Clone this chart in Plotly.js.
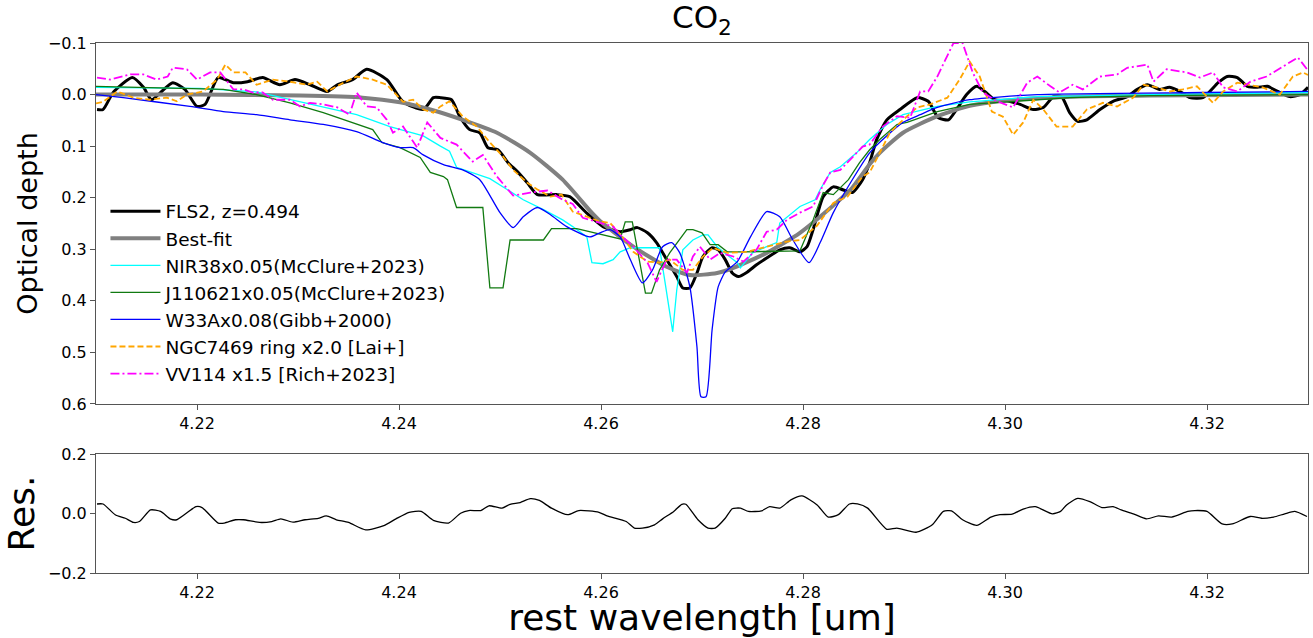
<!DOCTYPE html>
<html>
<head>
<meta charset="utf-8">
<script src="https://cdn.plot.ly/plotly-3.0.1.min.js"></script>
<style>html,body{margin:0;padding:0;background:#fff;}#chart{width:1313px;height:638px;}</style>
</head>
<body>
<div id="chart"></div>
<script>
// ---- data ----
const xTicks = [4.22, 4.24, 4.26, 4.28, 4.30, 4.32];

const fls2Wave = [4.2101,4.2107,4.2117,4.2136,4.2147,4.2155,4.2165,4.2176,4.2188,4.2200,
4.2208,4.2221,4.2236,4.2250,4.2265,4.2282,4.2297,4.2312,4.2329,4.2339,
4.2354,4.2368,4.2388,4.2404,4.2424,4.2434,4.2441,4.2452,4.2460,4.2470,
4.2480,4.2488,4.2498,4.2508,4.2517,4.2527,4.2537,4.2556,4.2569,4.2586,
4.2602,4.2619,4.2629,4.2636,4.2646,4.2655,4.2665,4.2675,4.2681,4.2688,
4.2695,4.2701,4.2710,4.2716,4.2723,4.2730,4.2736,4.2745,4.2754,4.2764,
4.2777,4.2787,4.2797,4.2804,4.2810,4.2820,4.2830,4.2840,4.2849,4.2859,
4.2866,4.2873,4.2883,4.2896,4.2913,4.2924,4.2934,4.2944,4.2952,4.2962,
4.2972,4.2980,4.2990,4.3002,4.3015,4.3028,4.3038,4.3048,4.3056,4.3064,
4.3072,4.3081,4.3094,4.3107,4.3121,4.3131,4.3141,4.3153,4.3163,4.3175,
4.3183,4.3196,4.3211,4.3220,4.3230,4.3240,4.3250,4.3260,4.3270,4.3282,
4.3292,4.3300];
const fls2Tau = [0.029,0.029,-0.004,-0.033,-0.014,0.010,-0.006,-0.023,-0.010,0.023,
0.019,-0.033,-0.023,-0.025,-0.033,-0.019,-0.029,-0.019,-0.006,-0.019,
-0.029,-0.049,-0.029,0.014,0.029,0.006,0.006,0.010,0.042,0.068,
0.074,0.103,0.107,0.132,0.149,0.171,0.194,0.194,0.198,0.230,
0.256,0.266,0.262,0.258,0.268,0.287,0.320,0.353,0.375,0.375,
0.346,0.314,0.297,0.301,0.320,0.346,0.353,0.344,0.330,0.317,
0.301,0.297,0.305,0.295,0.262,0.198,0.179,0.185,0.190,0.165,
0.132,0.087,0.049,0.029,0.006,0.013,0.045,0.049,0.029,0.000,
-0.016,-0.006,0.010,0.012,0.019,0.029,0.025,0.004,0.004,0.035,
0.052,0.049,0.029,0.013,0.004,-0.010,-0.019,-0.010,-0.014,-0.004,
0.006,0.006,-0.023,-0.035,-0.033,-0.016,-0.014,-0.016,-0.006,0.004,
0.000,-0.014];

const fitWave = [4.2100,4.2203,4.2302,4.2364,4.2401,4.2431,4.2463,4.2497,4.2530,4.2562,
4.2589,4.2599,4.2632,4.2665,4.2688,4.2715,4.2731,4.2764,4.2797,4.2830,
4.2847,4.2866,4.2876,4.2899,4.2933,4.2965,4.2998,4.3064,4.3144,4.3300];
const fitTau = [0.000,0.000,0.002,0.006,0.015,0.029,0.049,0.074,0.113,0.165,
0.225,0.245,0.295,0.334,0.350,0.346,0.336,0.307,0.268,0.215,
0.185,0.135,0.113,0.074,0.042,0.022,0.012,0.004,0.002,0.000];

const nir38Wave = [4.2100,4.2203,4.2259,4.2292,4.2358,4.2391,4.2424,4.2441,4.2450,4.2457,
4.2473,4.2490,4.2507,4.2523,4.2543,4.2562,4.2572,4.2586,4.2591,4.2602,
4.2612,4.2619,4.2629,4.2658,4.2663,4.2671,4.2675,4.2681,4.2691,4.2701,
4.2706,4.2715,4.2725,4.2735,4.2738,4.2750,4.2764,4.2774,4.2777,4.2797,
4.2812,4.2817,4.2827,4.2837,4.2853,4.2866,4.2883,4.2899,4.2933,4.2965,
4.3032,4.3144,4.3300];
const nir38Tau = [-0.014,-0.012,-0.005,0.010,0.039,0.062,0.080,0.100,0.110,0.141,
0.151,0.163,0.184,0.204,0.223,0.243,0.256,0.276,0.326,0.328,
0.320,0.305,0.297,0.297,0.359,0.460,0.379,0.301,0.282,0.272,
0.272,0.295,0.311,0.326,0.336,0.307,0.295,0.287,0.249,0.217,
0.204,0.184,0.151,0.140,0.113,0.087,0.058,0.039,0.023,0.014,
0.004,0.000,-0.004];

const j110621Wave = [4.2100,4.2226,4.2259,4.2292,4.2325,4.2358,4.2374,4.2383,4.2401,4.2421,
4.2431,4.2444,4.2448,4.2457,4.2483,4.2490,4.2503,4.2510,4.2543,4.2551,
4.2576,4.2619,4.2624,4.2631,4.2644,4.2650,4.2658,4.2668,4.2685,4.2691,
4.2700,4.2708,4.2716,4.2725,4.2741,4.2797,4.2810,4.2820,4.2830,4.2845,
4.2856,4.2866,4.2876,4.2893,4.2903,4.2933,4.2965,4.3064,4.3144,4.3300];
const j110621Tau = [-0.016,-0.010,0.000,0.016,0.035,0.058,0.068,0.093,0.103,0.122,
0.151,0.159,0.165,0.219,0.219,0.375,0.375,0.282,0.282,0.260,
0.260,0.280,0.247,0.247,0.385,0.385,0.340,0.307,0.262,0.262,
0.268,0.291,0.291,0.305,0.305,0.303,0.243,0.190,0.194,0.165,
0.132,0.107,0.087,0.058,0.054,0.033,0.019,0.006,0.002,0.000];

const w33aWave = [4.2100,4.2127,4.2193,4.2226,4.2259,4.2292,4.2325,4.2358,4.2384,4.2401,
4.2414,4.2424,4.2444,4.2463,4.2480,4.2500,4.2513,4.2523,4.2537,4.2550,
4.2566,4.2589,4.2599,4.2609,4.2619,4.2629,4.2641,4.2651,4.2661,4.2670,
4.2678,4.2688,4.2695,4.2699,4.2704,4.2710,4.2716,4.2723,4.2735,4.2748,
4.2764,4.2777,4.2790,4.2806,4.2817,4.2830,4.2847,4.2866,4.2883,4.2899,
4.2916,4.2933,4.2965,4.3032,4.3196,4.3300];
const w33aTau = [0.000,0.006,0.023,0.033,0.039,0.049,0.058,0.072,0.093,0.103,
0.103,0.117,0.136,0.146,0.165,0.229,0.258,0.237,0.219,0.233,
0.256,0.276,0.268,0.262,0.276,0.320,0.365,0.340,0.295,0.287,
0.307,0.373,0.489,0.586,0.586,0.456,0.373,0.344,0.324,0.276,
0.227,0.237,0.282,0.326,0.287,0.229,0.171,0.113,0.080,0.054,
0.039,0.025,0.010,0.000,-0.004,-0.006];

const ngc7469Wave = [4.2100,4.2107,4.2121,4.2137,4.2153,4.2170,4.2180,4.2190,4.2206,4.2220,
4.2228,4.2236,4.2248,4.2259,4.2275,4.2292,4.2309,4.2319,4.2329,4.2345,
4.2358,4.2374,4.2388,4.2404,4.2414,4.2424,4.2434,4.2441,4.2450,4.2463,
4.2477,4.2490,4.2503,4.2513,4.2527,4.2537,4.2550,4.2561,4.2572,4.2586,
4.2599,4.2609,4.2622,4.2632,4.2646,4.2658,4.2668,4.2681,4.2691,4.2701,
4.2711,4.2725,4.2745,4.2764,4.2784,4.2797,4.2814,4.2830,4.2844,4.2859,
4.2866,4.2876,4.2886,4.2899,4.2913,4.2926,4.2943,4.2955,4.2965,4.2975,
4.2987,4.2998,4.3008,4.3018,4.3028,4.3038,4.3051,4.3067,4.3081,4.3097,
4.3111,4.3127,4.3137,4.3150,4.3163,4.3176,4.3190,4.3206,4.3216,4.3230,
4.3243,4.3255,4.3272,4.3285,4.3295,4.3300];
const ngc7469Tau = [0.017,0.014,-0.006,0.006,0.010,0.006,0.013,0.000,-0.006,-0.029,
-0.058,-0.043,-0.043,-0.019,-0.029,-0.025,-0.019,-0.025,-0.006,-0.023,
-0.035,-0.029,-0.019,0.014,0.010,0.029,0.035,0.023,0.013,0.042,
0.062,0.093,0.120,0.146,0.171,0.184,0.198,0.194,0.227,0.237,
0.246,0.249,0.278,0.305,0.324,0.326,0.320,0.340,0.340,0.314,
0.297,0.307,0.305,0.295,0.285,0.282,0.254,0.210,0.198,0.159,
0.151,0.113,0.074,0.049,0.025,0.019,0.006,-0.029,-0.064,-0.035,
0.033,0.043,0.078,0.054,0.010,0.029,0.062,0.062,0.029,0.016,
0.023,0.006,-0.019,-0.014,-0.006,-0.010,-0.016,0.016,-0.006,-0.023,
-0.019,-0.014,0.000,-0.035,-0.043,-0.038];

const vv114Wave = [4.2101,4.2114,4.2134,4.2147,4.2160,4.2171,4.2176,4.2190,4.2200,4.2213,
4.2223,4.2236,4.2246,4.2255,4.2265,4.2275,4.2292,4.2302,4.2312,4.2325,
4.2339,4.2351,4.2358,4.2368,4.2378,4.2388,4.2394,4.2404,4.2418,4.2428,
4.2441,4.2457,4.2473,4.2483,4.2497,4.2513,4.2530,4.2547,4.2562,4.2572,
4.2582,4.2599,4.2612,4.2619,4.2632,4.2646,4.2655,4.2665,4.2675,4.2685,
4.2691,4.2698,4.2708,4.2718,4.2731,4.2741,4.2754,4.2764,4.2774,4.2784,
4.2797,4.2810,4.2820,4.2827,4.2837,4.2859,4.2866,4.2879,4.2893,4.2906,
4.2916,4.2924,4.2933,4.2949,4.2958,4.2968,4.2978,4.2992,4.3008,4.3022,
4.3032,4.3045,4.3054,4.3067,4.3077,4.3094,4.3111,4.3121,4.3141,4.3147,
4.3160,4.3180,4.3193,4.3206,4.3216,4.3230,4.3243,4.3259,4.3275,4.3290,
4.3299];
const vv114Tau = [-0.033,-0.029,-0.039,-0.039,-0.029,-0.035,-0.052,-0.049,-0.029,-0.043,
-0.043,-0.010,-0.010,-0.004,-0.004,0.010,0.010,0.023,0.016,0.019,
0.025,0.039,-0.004,0.023,0.025,0.049,0.074,0.062,0.103,0.054,
0.084,0.097,0.130,0.117,0.159,0.196,0.190,0.186,0.204,0.212,
0.239,0.249,0.256,0.272,0.295,0.326,0.363,0.320,0.320,0.346,
0.314,0.295,0.320,0.307,0.314,0.324,0.301,0.266,0.262,0.243,
0.229,0.217,0.175,0.151,0.146,0.101,0.097,0.062,0.042,0.045,
-0.006,-0.006,-0.035,-0.100,-0.100,-0.043,-0.004,0.013,0.025,-0.023,
-0.035,-0.016,-0.004,-0.019,-0.010,-0.035,-0.039,-0.052,-0.058,-0.025,
-0.049,-0.043,-0.033,-0.043,-0.014,-0.006,-0.025,-0.035,-0.054,-0.072,
-0.049];

const resWave = [4.2101,4.2107,4.2119,4.2129,4.2137,4.2143,4.2154,4.2164,4.2174,4.2180,
4.2199,4.2205,4.2221,4.2227,4.2238,4.2246,4.2262,4.2274,4.2283,4.2295,
4.2307,4.2320,4.2328,4.2338,4.2350,4.2367,4.2385,4.2397,4.2410,4.2422,
4.2434,4.2449,4.2461,4.2469,4.2481,4.2489,4.2502,4.2510,4.2520,4.2530,
4.2539,4.2551,4.2567,4.2578,4.2598,4.2606,4.2625,4.2633,4.2641,4.2653,
4.2661,4.2672,4.2680,4.2684,4.2696,4.2706,4.2713,4.2723,4.2730,4.2738,
4.2746,4.2759,4.2767,4.2777,4.2788,4.2799,4.2814,4.2825,4.2835,4.2846,
4.2854,4.2864,4.2883,4.2893,4.2912,4.2928,4.2939,4.2947,4.2958,4.2972,
4.2986,4.2995,4.3007,4.3018,4.3030,4.3047,4.3055,4.3061,4.3072,4.3084,
4.3096,4.3107,4.3115,4.3127,4.3140,4.3152,4.3165,4.3181,4.3188,4.3200,
4.3215,4.3225,4.3243,4.3254,4.3266,4.3277,4.3287,4.3299];
const resValue = [0.032,0.032,-0.004,-0.016,-0.030,-0.027,0.012,0.007,-0.019,-0.021,
0.023,0.020,-0.032,-0.032,-0.021,-0.021,-0.030,-0.027,-0.018,-0.029,
-0.021,-0.016,-0.008,-0.021,-0.030,-0.055,-0.041,-0.018,0.004,0.007,
-0.023,-0.032,0.001,0.010,0.010,0.026,0.018,0.031,0.037,0.050,
0.044,0.018,-0.004,0.010,0.004,-0.008,-0.027,-0.049,-0.049,-0.038,
-0.018,0.007,0.031,0.031,-0.021,-0.049,-0.049,-0.016,0.016,0.018,
0.007,0.009,0.023,0.018,0.046,0.059,0.029,-0.012,-0.004,0.032,
0.032,0.018,-0.053,-0.049,-0.063,-0.038,0.007,0.009,-0.021,-0.040,
-0.012,-0.004,-0.002,0.015,0.023,-0.001,0.007,0.029,0.051,0.040,
0.020,0.023,0.012,-0.001,-0.018,-0.008,-0.012,0.007,0.010,0.007,
-0.035,-0.035,-0.010,-0.016,-0.012,-0.001,0.007,-0.010];

// ---- traces ----
function tr(name, x, y, color, width, dash, shape, group) {
  return {type:'scatter', mode:'lines', name:name, x:x, y:y, xaxis:'x', yaxis:'y',
    legendgroup:group, line:{color:color, width:width, dash:dash, shape:shape, smoothing:0.6}};
}
const traces = [
  tr('FLS2, z=0.494', fls2Wave, fls2Tau, '#000000', 3, 'solid', 'spline', 'g1'),
  tr('Best-fit', fitWave, fitTau, '#808080', 4, 'solid', 'spline', 'g2'),
  tr('NIR38x0.05(McClure+2023)', nir38Wave, nir38Tau, '#00ffff', 1.3, 'solid', 'linear', 'g3'),
  tr('J110621x0.05(McClure+2023)', j110621Wave, j110621Tau, '#117a11', 1.3, 'solid', 'linear', 'g4'),
  tr('W33Ax0.08(Gibb+2000)', w33aWave, w33aTau, '#0000ff', 1.3, 'solid', 'spline', 'g5'),
  tr('NGC7469 ring x2.0 [Lai+]', ngc7469Wave, ngc7469Tau, '#ffa500', 1.8, '6px,3px', 'linear', 'g6'),
  tr('VV114 x1.5 [Rich+2023]', vv114Wave, vv114Tau, '#ff00ff', 1.8, '9px,3px,2px,3px', 'linear', 'g7'),
  {type:'scatter', mode:'lines', x:resWave, y:resValue, xaxis:'x2', yaxis:'y2', showlegend:false,
   line:{color:'#000000', width:1.3, shape:'spline', smoothing:0.6}}
];

const axisCommon = {
  showline:true, mirror:true, linecolor:'#555', linewidth:1,
  ticks:'outside', ticklen:5, tickwidth:1, tickcolor:'#555',
  showgrid:false, zeroline:false,
  tickfont:{family:'DejaVu Sans', size:16, color:'#000'}
};

const layout = {
  width:1313, height:638,
  margin:{l:96, r:5, t:43, b:65},
  paper_bgcolor:'#ffffff', plot_bgcolor:'#ffffff',
  font:{family:'DejaVu Sans', size:16, color:'#000'},
  title:{text:'CO<sub>2</sub>', font:{family:'DejaVu Sans', size:31, color:'#000'},
    xref:'paper', x:0.5, xanchor:'center', yref:'paper', y:1, yanchor:'bottom', pad:{b:15}},
  showlegend:true,
  legend:{x:0.0078, y:0.7175, xanchor:'left', yanchor:'top', bgcolor:'rgba(0,0,0,0)',
    font:{family:'DejaVu Sans', size:18.5, color:'#000'}, traceorder:'grouped', tracegroupgap:0,
    itemwidth:50},
  xaxis: Object.assign({}, axisCommon, {domain:[0,1], anchor:'y', range:[4.21,4.33],
    tickvals:xTicks, tickformat:'.2f'}),
  yaxis: Object.assign({}, axisCommon, {domain:[0.3189,1], anchor:'x', range:[0.6,-0.1],
    dtick:0.1, tick0:0, tickformat:'.1f',
    title:{text:'Optical depth', font:{family:'DejaVu Sans', size:27, color:'#000'}, standoff:2}}),
  xaxis2: Object.assign({}, axisCommon, {domain:[0,1], anchor:'y2', range:[4.21,4.33],
    tickvals:xTicks, tickformat:'.2f',
    title:{text:'rest wavelength [um]', font:{family:'DejaVu Sans', size:36, color:'#000'}, standoff:8}}),
  yaxis2: Object.assign({}, axisCommon, {domain:[0,0.2245], anchor:'x2', range:[-0.2,0.2],
    tickvals:[-0.2,0,0.2], tickformat:'.1f',
    title:{text:'Res.', font:{family:'DejaVu Sans', size:36, color:'#000'}, standoff:2}})
};

Plotly.newPlot('chart', traces, layout, {displayModeBar:false, staticPlot:true});
</script>
</body>
</html>
